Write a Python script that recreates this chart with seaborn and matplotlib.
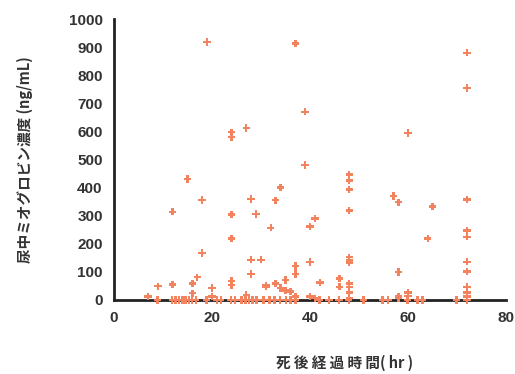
import matplotlib
matplotlib.use("Agg")
import matplotlib.pyplot as plt
import seaborn as sns
import pandas as pd

# Data (hours after death, urine myoglobin ng/mL)
hours_high = [19, 37, 72, 72, 39, 60, 24, 24, 27, 39, 15, 34, 18, 28, 33,
              12, 24, 29, 32, 40, 24, 18, 28, 30, 37, 40, 28, 37, 17, 24,
              24, 9, 12, 16, 20, 31, 31, 33, 35, 34, 35, 36, 16, 20, 7, 27,
              37]
conc_high = [918, 913, 880, 755, 670, 595, 597, 580, 612, 480, 430, 401, 356,
             359, 355, 314, 305, 306, 257, 261, 219, 167, 143, 143, 121, 136,
             93, 93, 81, 68, 53, 49, 55, 58, 43, 52, 47, 59, 71, 43, 33, 30,
             24, 12, 12, 18, 12]

hours_right = [48, 48, 48, 48, 57, 58, 65, 72, 41, 40, 72, 72, 64, 40, 48,
               48, 48, 72, 72, 58, 42, 46, 46, 48, 48, 48, 48, 72, 72, 72,
               60, 60, 58, 58, 40, 41]
conc_right = [446, 425, 394, 318, 370, 348, 333, 357, 290, 261, 247, 225, 219,
              135, 152, 142, 133, 136, 101, 100, 62, 76, 47, 59, 47, 26, 6,
              47, 26, 12, 26, 14, 12, 6, 12, 6]

hours_zero = [8.9, 11.9, 12.6, 13.3, 14, 14.6, 15.3, 15.9, 16.7, 18.9, 21,
              21.8, 23.9, 24.7, 26, 26.8, 27.6, 28.3, 29.1, 30.5, 31.7, 32.8,
              33.9, 35.1, 36, 37, 41.9, 43.9, 45.9, 47.9, 50.9, 54.8, 55.9,
              59.9, 61.9, 62.9, 69.9, 72]
conc_zero = [0] * len(hours_zero)

df = pd.DataFrame({
    "hours": hours_high + hours_right + hours_zero,
    "conc": conc_high + conc_right + conc_zero,
})

sns.set_style("white")
plt.rcParams["font.family"] = ["Liberation Sans", "Noto Sans CJK JP", "DejaVu Sans"]

fig = plt.figure(figsize=(5.15, 3.74), dpi=100)
ax = fig.add_axes([0.221, 0.198, 0.762, 0.751])

sns.scatterplot(data=df, x="hours", y="conc", ax=ax, marker="P", s=28,
                color="#F2835E", edgecolor="none", clip_on=False, zorder=3)

ax.set_xlim(0, 80)
ax.set_ylim(0, 1000)
ax.set_xticks(range(0, 81, 20))
ax.set_yticks(range(0, 1001, 100))
ax.tick_params(length=0, labelsize=11, pad=8)
for lab in ax.get_xticklabels() + ax.get_yticklabels():
    lab.set_fontweight("bold")
    lab.set_color("#333333")

for side in ["top", "right"]:
    ax.spines[side].set_visible(False)
for side in ["left", "bottom"]:
    ax.spines[side].set_linewidth(2)
    ax.spines[side].set_color("#222222")

ax.set_xlabel("死 後 経 過 時 間( hr )", family=["Noto Sans CJK JP"],
              fontsize=10.5, fontweight="bold", color="#333333")
ax.xaxis.set_label_coords(0.587, -0.195)
ax.set_ylabel("尿中ミオグロビン濃度 (ng/mL)", family=["Noto Sans CJK JP"],
              fontsize=10.5, fontweight="bold", color="#333333")
ax.yaxis.set_label_coords(-0.205, 0.5)

fig.savefig("out.png", dpi=100)
